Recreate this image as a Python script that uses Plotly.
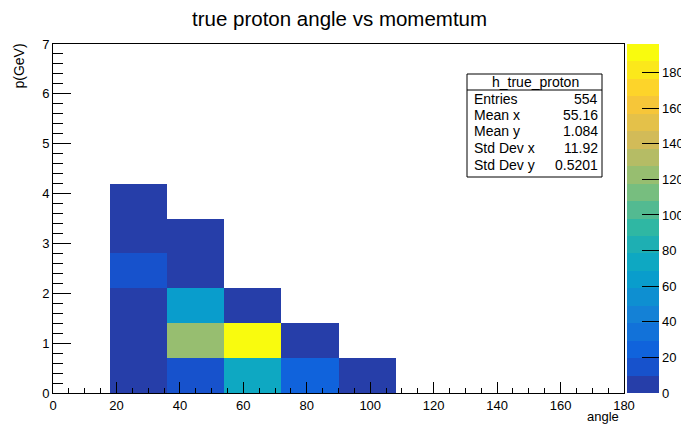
import numpy as np
import plotly.graph_objects as go

# ---------------- data ----------------
title_text = "true proton angle vs momemtum"
x_title = "angle"
y_title = "p(GeV)"
x_edges = [0, 18, 36, 54, 72, 90, 108, 126, 144, 162, 180]
y_edges = [0, 0.7, 1.4, 2.1, 2.8, 3.5, 4.2, 4.9, 5.6, 6.3, 7.0]
# counts[row = y bin][col = x bin]; None = empty bin
row_p0 = [None, 4, 17, 72, 22, 7, None, None, None, None]
row_p1 = [None, 6, 122, 196, 6, None, None, None, None, None]
row_p2 = [None, 5, 62, 7, None, None, None, None, None, None]
row_p3 = [None, 15, 5, None, None, None, None, None, None, None]
row_p4 = [None, 3, 3, None, None, None, None, None, None, None]
row_p5 = [None, 2, None, None, None, None, None, None, None, None]
row_p6 = [None] * 10
row_p7 = [None] * 10
row_p8 = [None] * 10
row_p9 = [None] * 10
z_min = 0
z_max = 196
n_contours = 20
stats_name = "h_true_proton"
stats_labels = ["Entries", "Mean x", "Mean y", "Std Dev x", "Std Dev y"]
stats_values = ["554", "55.16", "1.084", "11.92", "0.5201"]

counts = [row_p0, row_p1, row_p2, row_p3, row_p4, row_p5, row_p6, row_p7, row_p8, row_p9]

# ROOT kBird palette
bird_stops = [0.0, 0.125, 0.25, 0.375, 0.5, 0.625, 0.75, 0.875, 1.0]
bird_r = [0.2082, 0.0592, 0.0780, 0.0232, 0.1802, 0.5301, 0.8186, 0.9956, 0.9764]
bird_g = [0.1664, 0.3599, 0.5041, 0.6419, 0.7178, 0.7492, 0.7328, 0.7862, 0.9832]
bird_b = [0.5293, 0.8684, 0.8385, 0.7914, 0.6425, 0.4662, 0.3499, 0.1968, 0.0539]


def bird(t):
    r = np.interp(t, bird_stops, bird_r)
    g = np.interp(t, bird_stops, bird_g)
    b = np.interp(t, bird_stops, bird_b)
    return "rgb(%d,%d,%d)" % (round(r * 255), round(g * 255), round(b * 255))


colorscale = []
for i in range(n_contours):
    c = bird(min(1.0, (i + 0.99) / n_contours * 255 / 254))
    colorscale.append([i / n_contours, c])
    colorscale.append([(i + 1) / n_contours, c])

# ---------------- layout geometry (pixels, page coordinates) ----------------
OFF = 8  # default page body margin
W, H = 689 - OFF, 424 - OFF
L, R, T, B = 53, 624, 44, 393
pw, ph = R - L, B - T


def px(x):
    return (x - L) / pw


def py(y):
    return (B - y) / ph


FONT = "Liberation Sans, Arial, Helvetica, sans-serif"

fig = go.Figure()
fig.add_trace(go.Heatmap(
    x=x_edges, y=y_edges, z=counts,
    zmin=z_min, zmax=z_max,
    colorscale=colorscale,
    hoverongaps=False,
    colorbar=dict(
        x=px(627), xanchor="left", xref="paper",
        y=0.5, yanchor="middle", len=1, lenmode="fraction",
        thickness=32, thicknessmode="pixels",
        xpad=0, ypad=0, outlinewidth=0,
        ticks="inside", ticklen=17, tickwidth=1.3, tickcolor="black",
        tick0=0, dtick=20,
        tickfont=dict(family=FONT, size=13, color="black"),
    ),
))

fig.update_xaxes(
    range=[0, 180], showgrid=False, zeroline=False, automargin=False,
    showline=True, linecolor="black", linewidth=1, mirror=True,
    ticks="inside", ticklen=11, tickwidth=1, tickcolor="black",
    tick0=0, dtick=20,
    minor=dict(ticks="inside", ticklen=5, dtick=5, tickcolor="black", tickwidth=1),
    tickfont=dict(family=FONT, size=13, color="black"),
)
fig.update_yaxes(
    range=[0, 7], showgrid=False, zeroline=False, automargin=False,
    showline=True, linecolor="black", linewidth=1, mirror=True,
    ticks="inside", ticklen=18, tickwidth=1, tickcolor="black",
    tick0=0, dtick=1,
    minor=dict(ticks="inside", ticklen=10, dtick=0.2, tickcolor="black", tickwidth=1),
    tickfont=dict(family=FONT, size=13, color="black"),
)

annotations = [
    dict(text=title_text, x=px(339), y=py(19), xref="paper", yref="paper",
         xanchor="center", yanchor="middle", showarrow=False,
         font=dict(family=FONT, size=20.5, color="black")),
    dict(text=x_title, x=px(621), y=py(416), xref="paper", yref="paper",
         xanchor="right", yanchor="middle", showarrow=False,
         font=dict(family=FONT, size=13, color="black")),
    dict(text=y_title, x=px(18), y=py(42), xref="paper", yref="paper",
         xanchor="center", yanchor="top", textangle=-90, showarrow=False,
         font=dict(family=FONT, size=14, color="black")),
    dict(text=stats_name, x=px(535), y=py(82), xref="paper", yref="paper",
         xanchor="center", yanchor="middle", showarrow=False,
         font=dict(family=FONT, size=14, color="black")),
]
row_y = [99, 115, 131, 148, 165]
for lab, val, yy in zip(stats_labels, stats_values, row_y):
    annotations.append(dict(text=lab, x=px(472), y=py(yy), xref="paper", yref="paper",
                            xanchor="left", yanchor="middle", showarrow=False,
                            font=dict(family=FONT, size=14, color="black")))
    annotations.append(dict(text=val, x=px(600), y=py(yy), xref="paper", yref="paper",
                            xanchor="right", yanchor="middle", showarrow=False,
                            font=dict(family=FONT, size=14, color="black")))

shapes = [
    dict(type="rect", xref="paper", yref="paper",
         x0=px(467), x1=px(602), y0=py(177), y1=py(74),
         line=dict(color="black", width=1), fillcolor="white", layer="above"),
    dict(type="line", xref="paper", yref="paper",
         x0=px(467), x1=px(602), y0=py(90), y1=py(90),
         line=dict(color="black", width=1), layer="above"),
]

fig.update_layout(
    width=W, height=H,
    margin=dict(l=L - OFF, r=W - (R - OFF), t=T - OFF, b=H - (B - OFF), pad=0, autoexpand=False),
    paper_bgcolor="white", plot_bgcolor="white",
    annotations=annotations, shapes=shapes,
    showlegend=False,
)

fig.write_html("out.html")
